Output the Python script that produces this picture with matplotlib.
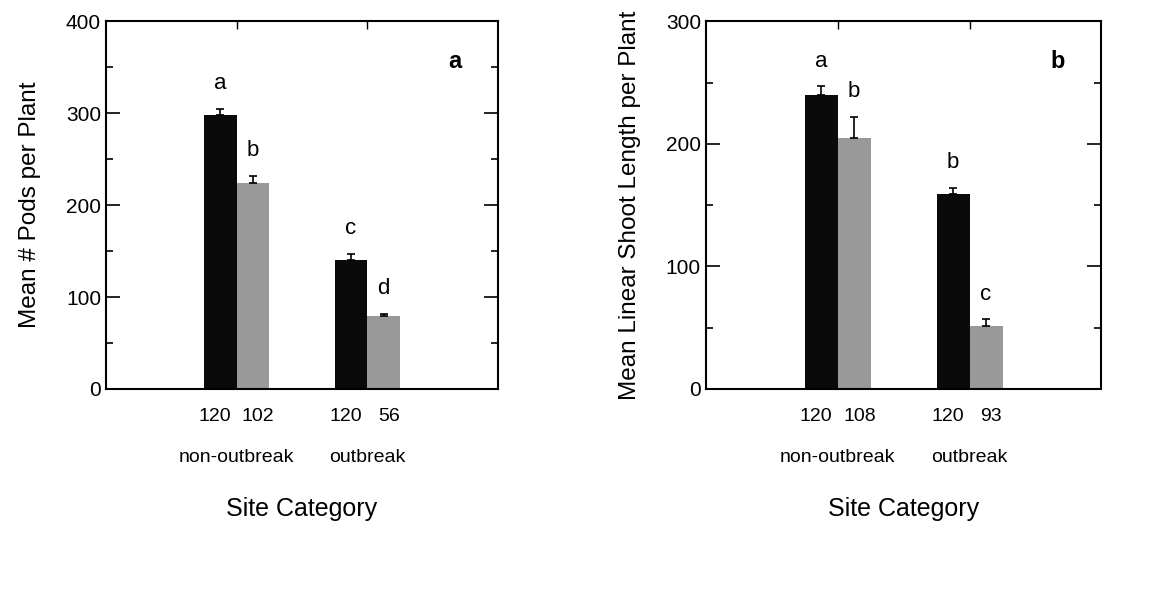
import matplotlib.pyplot as plt
import numpy as np

plt.rcParams['font.family'] = ['Liberation Sans', 'DejaVu Sans']

groups = ['non-outbreak', 'outbreak']

# panel a: mean pods per plant
pods_mean = [[298, 224], [140, 79]]
pods_err = [[7, 8], [7, 3]]
pods_n = [[120, 102], [120, 56]]
pods_letters = [['a', 'b'], ['c', 'd']]

# panel b: mean linear shoot length per plant
shoot_mean = [[240, 205], [159, 51]]
shoot_err = [[7, 17], [5, 6]]
shoot_n = [[120, 108], [120, 93]]
shoot_letters = [['a', 'b'], ['b', 'c']]

fig = plt.figure(figsize=(11.57, 6.15), dpi=100)
ax1 = fig.add_axes([0.0916, 0.3675, 0.3388, 0.598])
ax2 = fig.add_axes([0.610, 0.3675, 0.342, 0.598])

w = 0.25
colors = ['#0a0a0a', '#999999']


def panel(ax, means, errs, ns, letters, ymax, ylabel, tag):
    means = np.array(means)
    errs = np.array(errs)
    for g in range(2):
        for k in range(2):
            x = g + 1 + (k - 0.5) * w
            ax.bar(x, means[g, k], w, color=colors[k], edgecolor=colors[k], lw=0)
            ax.errorbar(x, means[g, k], yerr=[[0], [errs[g, k]]], fmt='none',
                        ecolor='black', elinewidth=1.2, capsize=3, capthick=1.2)
            ax.annotate(letters[g][k], (x, means[g, k] + errs[g, k]),
                        xytext=(0, 18), textcoords='offset points',
                        ha='center', va='center', fontsize=16)
            ax.text(x + (k - 0.5) * 0.08, -0.076, str(ns[g][k]),
                    transform=ax.get_xaxis_transform(),
                    ha='center', va='center', fontsize=14)
        ax.text(g + 1, -0.185, groups[g], transform=ax.get_xaxis_transform(),
                ha='center', va='center', fontsize=14)
    ax.text(1.5, -0.326, 'Site Category', transform=ax.get_xaxis_transform(),
            ha='center', va='center', fontsize=18)
    ax.text(0.89, 0.89, tag, transform=ax.transAxes, ha='center', va='center',
            fontsize=17, fontweight='bold')
    ax.set_xlim(0, 3)
    ax.set_ylim(0, ymax)
    ax.set_yticks(np.arange(0, ymax + 1, 100))
    ax.set_yticks(np.arange(50, ymax, 100), minor=True)
    ax.set_xticks([])
    ax.tick_params(axis='y', which='both', direction='in', right=True,
                   labelsize=15, width=1.2)
    ax.tick_params(axis='y', which='major', length=10)
    ax.tick_params(axis='y', which='minor', length=5)
    sec = ax.secondary_xaxis('top')
    sec.set_xticks([1, 2])
    sec.set_xticklabels([])
    sec.tick_params(direction='in', length=6, width=1)
    for s in ax.spines.values():
        s.set_linewidth(1.5)
    sec.spines['top'].set_visible(False)
    ax.set_ylabel(ylabel, fontsize=17.5, labelpad=18)


panel(ax1, pods_mean, pods_err, pods_n, pods_letters, 400,
      'Mean # Pods per Plant', 'a')
panel(ax2, shoot_mean, shoot_err, shoot_n, shoot_letters, 300,
      'Mean Linear Shoot Length per Plant', 'b')

fig.savefig('out.png', dpi=100)
